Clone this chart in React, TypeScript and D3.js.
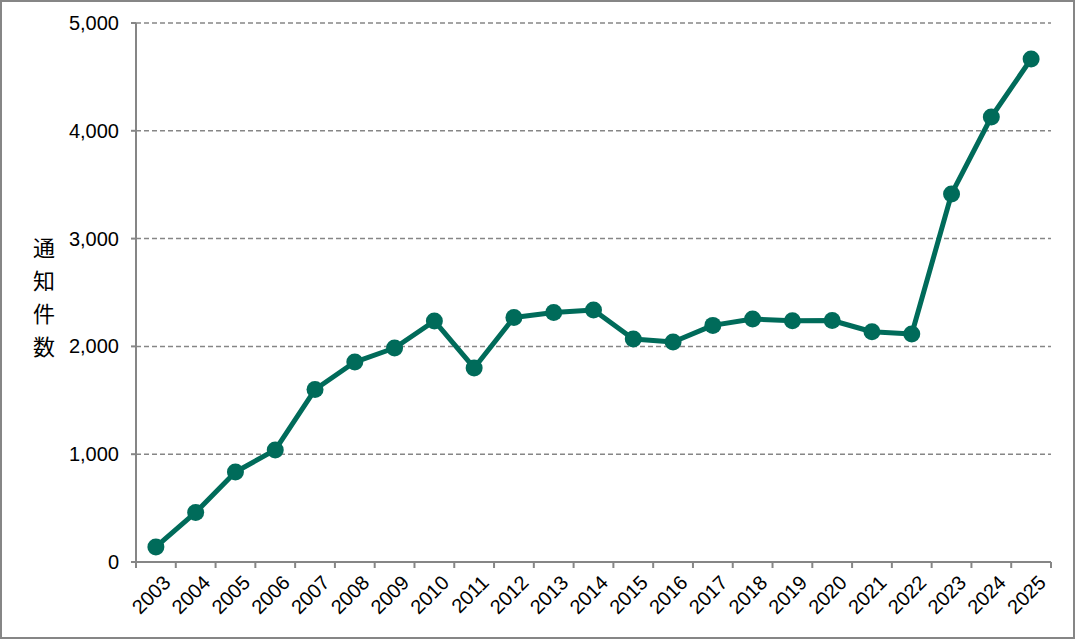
import React from 'react';
import * as d3 from 'd3';

const years = ['2003', '2004', '2005', '2006', '2007', '2008', '2009', '2010', '2011', '2012', '2013', '2014',
  '2015', '2016', '2017', '2018', '2019', '2020', '2021', '2022', '2023', '2024', '2025'];
const counts = [140, 460, 835, 1040, 1600, 1855, 1985, 2236, 1800, 2268, 2315, 2338,
  2069, 2041, 2195, 2254, 2238, 2240, 2136, 2115, 3414, 4128, 4666];
const yTicks = [0, 1000, 2000, 3000, 4000, 5000];
const yTitle = ['通', '知', '件', '数'];

const W = 1075;
const H = 639;
const margin = { left: 136, right: 24, top: 23, bottom: 77 };
const lineColor = '#006b5a';
const axisColor = '#868686';
const font = '"Liberation Sans", Arial, sans-serif';

export default function App() {
  const x = d3.scaleBand<string>()
    .domain(years)
    .range([margin.left, 1051]);
  const y = d3.scaleLinear()
    .domain([0, 5000])
    .range([H - margin.bottom, margin.top]);

  const cx = (d: string) => (x(d) ?? 0) + x.bandwidth() / 2;
  const line = d3.line<number>()
    .x((_, i) => cx(years[i]))
    .y(d => y(d));

  const fmt = d3.format(',');
  const y0 = y(0);

  return (
    <svg width={W} height={H} style={{ position: 'absolute', left: 0, top: 0, background: '#fff' }}>
      <rect x={1} y={1} width={W - 2} height={H - 2} fill="#fff" stroke={axisColor} strokeWidth={2} />

      {/* grid */}
      {yTicks.filter(t => t > 0).map(t => (
        <line key={t} x1={margin.left} x2={1051} y1={y(t)} y2={y(t)}
          stroke={axisColor} strokeWidth={1.5} strokeDasharray="5,3" />
      ))}

      {/* y axis */}
      <line x1={margin.left} x2={margin.left} y1={y(5000)} y2={y0} stroke={axisColor} strokeWidth={2} />
      {yTicks.map(t => (
        <g key={t}>
          <line x1={margin.left - 5} x2={margin.left} y1={y(t)} y2={y(t)} stroke={axisColor} strokeWidth={2} />
          <text x={119} y={y(t)} dy="0.35em" textAnchor="end" fontFamily={font} fontSize={20} fill="#000">
            {fmt(t)}
          </text>
        </g>
      ))}

      {/* y title, vertical */}
      {yTitle.map((c, i) => (
        <text key={c} x={44} y={248 + i * 33} dy="0.36em" textAnchor="middle"
          fontFamily='"Noto Sans CJK JP", sans-serif' fontSize={22} fill="#000">
          {c}
        </text>
      ))}

      {/* x axis */}
      <line x1={margin.left} x2={1051} y1={y0} y2={y0} stroke={axisColor} strokeWidth={2} />
      {years.map(d => (
        <line key={d} x1={x(d)} x2={x(d)} y1={y0} y2={y0 + 6} stroke={axisColor} strokeWidth={2} />
      ))}
      <line x1={1051} x2={1051} y1={y0} y2={y0 + 6} stroke={axisColor} strokeWidth={2} />
      {years.map(d => (
        <text key={d} transform={`translate(${cx(d) + 6},${y0 + 12}) rotate(-45)`}
          textAnchor="end" dy="0.7em" fontFamily={font} fontSize={20} fill="#000">
          {d}
        </text>
      ))}

      {/* series */}
      <path d={line(counts) ?? ''} fill="none" stroke={lineColor} strokeWidth={5} strokeLinejoin="round" />
      {counts.map((v, i) => (
        <circle key={years[i]} cx={cx(years[i])} cy={y(v)} r={8.5} fill={lineColor} />
      ))}
    </svg>
  );
}
